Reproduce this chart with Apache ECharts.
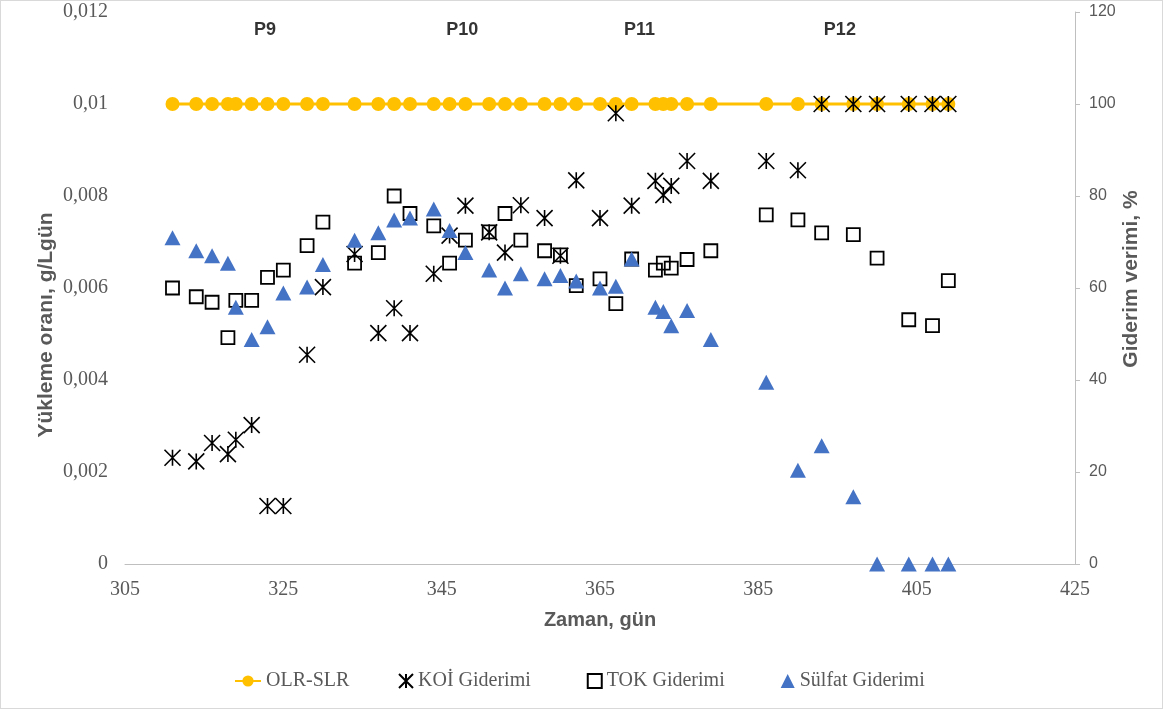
<!DOCTYPE html>
<html>
<head>
<meta charset="utf-8">
<script src="https://cdn.jsdelivr.net/npm/echarts@6/dist/echarts.min.js"></script>
<style>
  html, body { margin: 0; padding: 0; background: #fff; }
  #frame { position: absolute; left: 0; top: 0; width: 1161px; height: 707px; border: 1px solid #d9d9d9; }
  #chart { width: 1163px; height: 709px; position: absolute; left: 0; top: 0; }
</style>
</head>
<body>
<div id="frame"></div>
<div id="chart"></div>
<script>
const days = [311,314,316,318,319,321,323,325,328,330,334,337,339,341,344,346,348,351,353,355,358,360,362,365,367,369,372,373,374,376,379,386,390,393,397,400,404,407,409];
const olrSlr = [0.01,0.01,0.01,0.01,0.01,0.01,0.01,0.01,0.01,0.01,0.01,0.01,0.01,0.01,0.01,0.01,0.01,0.01,0.01,0.01,0.01,0.01,0.01,0.01,0.01,0.01,0.01,0.01,0.01,0.01,0.01,0.01,0.01,0.01,0.01,0.01,0.01,0.01,0.01];
const koiGiderimi = [23.1,22.3,26.3,23.9,27.0,30.2,12.6,12.6,45.5,60.2,67.4,50.2,55.6,50.2,63.1,71.4,77.9,72.1,67.7,78.0,75.2,67.0,83.4,75.2,98.0,77.9,83.3,80.2,82.2,87.6,83.3,87.6,85.6,100,100,100,100,100,100];
const tokGiderimi = [60.0,58.1,56.9,49.2,57.3,57.3,62.3,63.9,69.2,74.3,65.4,67.7,80.0,76.2,73.5,65.4,70.4,72.2,76.2,70.4,68.1,67.2,60.5,62.0,56.6,66.3,63.9,65.4,64.3,66.2,68.1,75.9,74.8,72.0,71.6,66.5,53.1,51.8,61.6];
const sulfatGiderimi = [70.9,68.1,67.0,65.4,55.8,48.8,51.6,58.9,60.2,65.1,70.4,72.0,74.8,75.2,77.2,72.5,67.7,63.9,60.0,63.1,62.0,62.7,61.5,60.0,60.4,66.3,55.8,54.9,51.8,55.1,48.8,39.5,20.4,25.7,14.6,0,0,0,0];
const phaseLabels = ['P9','P10','P11','P12'];
const phaseDays = [322.7,347.6,370,395.3];
const phaseLevel = 0.0116;

const seriesNames = ['OLR-SLR','KOİ Giderimi','TOK Giderimi','Sülfat Giderimi'];
const pair = (ys) => days.map((d, i) => [d, ys[i]]);
const starPath = 'path://M0,0L16,16M16,0L0,16M8,0L8,16';
const serif = 'Liberation Serif';
const sans = 'Liberation Sans';
const grey = '#595959';
const legendText = { fontFamily: serif, fontSize: 20, color: grey };
const titleStyle = { fontFamily: sans, fontWeight: 'bold', fontSize: 21, fill: grey, align: 'center', verticalAlign: 'middle' };

const chart = echarts.init(document.getElementById('chart'));
chart.setOption({
  animation: false,
  backgroundColor: 'transparent',
  grid: { left: 125, right: 88, top: 12, bottom: 145 },
  legend: [
    {
      data: [seriesNames[0]],
      left: 229, top: 666,
      itemWidth: 26, itemHeight: 14,
      textStyle: legendText
    },
    {
      data: seriesNames.slice(1),
      left: 393, top: 666,
      itemGap: 56,
      itemWidth: 14, itemHeight: 14,
      textStyle: legendText
    }
  ],
  graphic: [
    { type: 'text', x: 46, y: 325, rotation: Math.PI / 2,
      style: Object.assign({ text: 'Yükleme oranı, g/Lgün' }, titleStyle) },
    { type: 'text', x: 1131, y: 279, rotation: Math.PI / 2,
      style: Object.assign({ text: 'Giderim verimi, %' }, titleStyle) }
  ],
  xAxis: {
    type: 'value', min: 305, max: 425, interval: 20,
    name: 'Zaman, gün', nameLocation: 'middle', nameGap: 46,
    nameTextStyle: { fontFamily: sans, fontWeight: 'bold', fontSize: 20, color: grey },
    axisLine: { show: true, lineStyle: { color: '#bfbfbf', width: 1 } },
    axisTick: { show: false },
    splitLine: { show: false },
    axisLabel: { fontFamily: serif, fontSize: 20, color: grey, margin: 16 }
  },
  yAxis: [
    {
      type: 'value', min: 0, max: 0.012, interval: 0.002, position: 'left',
      axisLine: { show: false }, axisTick: { show: false }, splitLine: { show: false },
      axisLabel: {
        fontFamily: serif, fontSize: 20, color: grey, margin: 17,
        formatter: v => String(parseFloat(v.toFixed(4))).replace('.', ',')
      }
    },
    {
      type: 'value', min: 0, max: 120, interval: 20, position: 'right',
      axisLine: { show: true, lineStyle: { color: '#bfbfbf', width: 1 } },
      axisTick: { show: true, inside: false, length: 5, lineStyle: { color: '#bfbfbf' } },
      splitLine: { show: false },
      axisLabel: { fontFamily: sans, fontSize: 16, color: grey, margin: 14 }
    }
  ],
  series: [
    {
      name: seriesNames[0], type: 'line', yAxisIndex: 0, data: pair(olrSlr),
      symbol: 'circle', symbolSize: 14, showAllSymbol: true,
      lineStyle: { color: '#FFC000', width: 3 },
      itemStyle: { color: '#FFC000', opacity: 1 }, z: 2
    },
    {
      name: seriesNames[1], type: 'scatter', yAxisIndex: 1, data: pair(koiGiderimi),
      symbol: starPath, symbolSize: [16, 16],
      itemStyle: { color: 'rgba(0,0,0,0)', borderColor: '#000', borderWidth: 1.6, opacity: 1 }, z: 3
    },
    {
      name: seriesNames[2], type: 'scatter', yAxisIndex: 1, data: pair(tokGiderimi),
      symbol: 'rect', symbolSize: 13,
      itemStyle: { color: 'rgba(255,255,255,0)', borderColor: '#000', borderWidth: 1.8, opacity: 1 }, z: 4
    },
    {
      name: seriesNames[3], type: 'scatter', yAxisIndex: 1, data: pair(sulfatGiderimi),
      symbol: 'triangle', symbolSize: [16, 15],
      itemStyle: { color: '#4472C4', opacity: 1 }, z: 5
    },
    {
      name: 'phases', type: 'scatter', yAxisIndex: 0, silent: true,
      data: phaseDays.map((d, i) => ({ value: [d, phaseLevel], name: phaseLabels[i] })),
      symbolSize: 0,
      label: { show: true, position: 'inside', formatter: p => p.name,
        fontFamily: sans, fontWeight: 'bold', fontSize: 18, color: '#000' }
    }
  ]
});
</script>
</body>
</html>
